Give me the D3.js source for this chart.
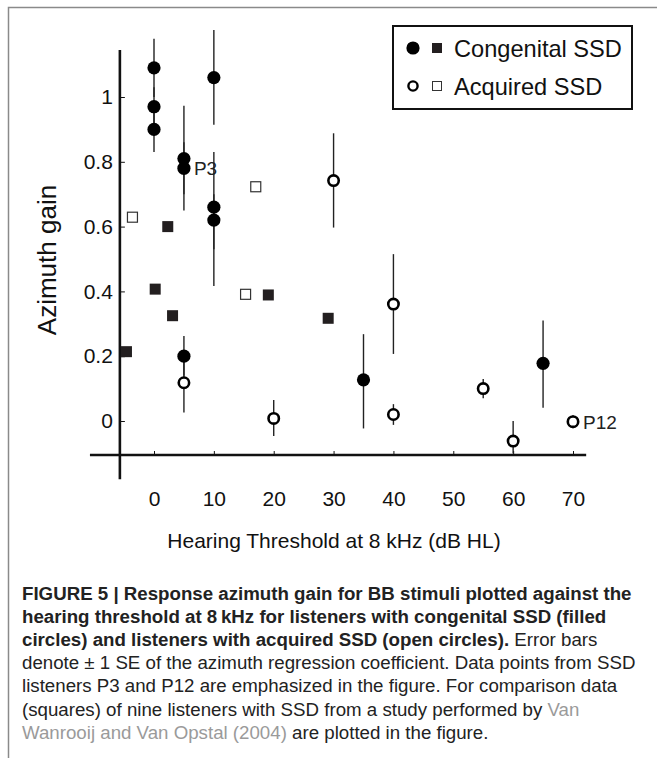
<!DOCTYPE html>
<html>
<head>
<meta charset="utf-8">
<script src="https://cdn.jsdelivr.net/npm/d3@7"></script>
<style>
  html, body { margin: 0; padding: 0; background: #fff; }
  svg { display: block; }
</style>
</head>
<body>
<svg id="chart" width="657" height="758"></svg>
<script>
// ---------- DATA ----------
// Congenital SSD (filled circles) with ±1 SE error bars
const congX  = [0, 0, 0, 5, 5, 10, 10, 10, 5, 35, 65];
const congY  = [1.09, 0.97, 0.90, 0.81, 0.78, 1.06, 0.66, 0.62, 0.20, 0.127, 0.178];
const congLo = [1.00, 0.91, 0.83, 0.70, 0.65, 0.914, 0.53, 0.417, 0.14, -0.023, 0.041];
const congHi = [1.18, 1.03, 0.97, 0.973, 0.86, 1.207, 0.83, 0.70, 0.262, 0.268, 0.31];

// Acquired SSD (open circles) with ±1 SE error bars
const acqX  = [5, 20, 30, 40, 40, 55, 60, 70];
const acqY  = [0.118, 0.008, 0.742, 0.361, 0.020, 0.100, -0.062, -0.002];
const acqLo = [0.026, -0.046, 0.597, 0.207, -0.012, 0.07, -0.10, -0.022];
const acqHi = [0.20, 0.065, 0.888, 0.515, 0.052, 0.13, 0.0, 0.018];

// Comparison data (Van Wanrooij & Van Opstal 2004)
const sqCongX = [-4.6, 0.2, 2.3, 3.1, 19.1, 29.1];
const sqCongY = [0.214, 0.407, 0.600, 0.325, 0.389, 0.317];
const sqAcqX  = [-3.6, 15.3, 17.0];
const sqAcqY  = [0.629, 0.391, 0.723];

// Ticks
const xTicks = [0, 10, 20, 30, 40, 50, 60, 70];
const yTicks = [0, 0.2, 0.4, 0.6, 0.8, 1];
const yTickLabels = ["0", "0.2", "0.4", "0.6", "0.8", "1"];

// Annotations
const annotations = [
  { label: "P3",  x: 5,  y: 0.78 },
  { label: "P12", x: 70, y: -0.002 }
];

const legendItems = ["Congenital SSD", "Acquired SSD"];

const captionLines = [
  [{t: "FIGURE 5 | Response azimuth gain for BB stimuli plotted against the", s: "b"}],
  [{t: "hearing threshold at 8\u2009kHz for listeners with congenital SSD (filled", s: "b"}],
  [{t: "circles) and listeners with acquired SSD (open circles).", s: "b"}, {t: " Error bars", s: "n"}],
  [{t: "denote \u00b1 1 SE of the azimuth regression coefficient. Data points from SSD", s: "n"}],
  [{t: "listeners P3 and P12 are emphasized in the figure. For comparison data", s: "n"}],
  [{t: "(squares) of nine listeners with SSD from a study performed by ", s: "n"}, {t: "Van", s: "g"}],
  [{t: "Wanrooij and Van Opstal (2004)", s: "g"}, {t: " are plotted in the figure.", s: "n"}]
];

// ---------- LAYOUT ----------
const svg = d3.select("#chart");
const FONT = "'Liberation Sans', Arial, Helvetica, sans-serif";

const x = d3.scaleLinear().domain([0, 70]).range([154, 573]);
const y = d3.scaleLinear().domain([0, 1]).range([421, 97]);

// Frame
svg.append("path")
  .attr("d", "M8.5,758 L8.5,7.5 L657,7.5")
  .attr("fill", "none").attr("stroke", "#8a8a8a").attr("stroke-width", 1.5);

const g = svg.append("g");

// Axes lines (custom extents)
const xAxisVal = -0.105, yAxisVal = -5.7;
g.append("line")
  .attr("x1", x(yAxisVal)).attr("x2", x(yAxisVal))
  .attr("y1", y(1.145)).attr("y2", y(-0.18))
  .attr("stroke", "#111").attr("stroke-width", 2.6);
g.append("line")
  .attr("x1", x(-10.7)).attr("x2", x(72.2))
  .attr("y1", y(xAxisVal)).attr("y2", y(xAxisVal))
  .attr("stroke", "#111").attr("stroke-width", 2.6);

// Y axis ticks & labels
const yAxis = d3.axisLeft(y).tickValues(yTicks)
  .tickFormat((d, i) => yTickLabels[i])
  .tickSizeInner(-5).tickSizeOuter(0).tickPadding(7);
const yg = g.append("g").attr("transform", `translate(${x(yAxisVal)},0)`).call(yAxis);
yg.select(".domain").remove();
yg.selectAll(".tick line").attr("stroke", "#111").attr("stroke-width", 1);
yg.selectAll(".tick text").attr("font-family", FONT).attr("font-size", 21).attr("fill", "#111");

// X axis ticks & labels
const xAxis = d3.axisBottom(x).tickValues(xTicks)
  .tickSizeInner(-4).tickSizeOuter(0).tickPadding(36);
const xg = g.append("g").attr("transform", `translate(0,${y(xAxisVal)})`).call(xAxis);
xg.select(".domain").remove();
xg.selectAll(".tick line").attr("stroke", "#111").attr("stroke-width", 1);
xg.selectAll(".tick text").attr("font-family", FONT).attr("font-size", 21).attr("fill", "#111");

// Axis titles
g.append("text")
  .attr("x", 334).attr("y", 548)
  .attr("text-anchor", "middle")
  .attr("font-family", FONT).attr("font-size", 21).attr("fill", "#111")
  .text("Hearing Threshold at 8 kHz (dB HL)");
g.append("text")
  .attr("transform", "translate(56,260) rotate(-90)")
  .attr("text-anchor", "middle")
  .attr("font-family", FONT).attr("font-size", 26).attr("fill", "#111")
  .text("Azimuth gain");

// Error bars
const errData = congX.map((d, i) => ({x: d, lo: congLo[i], hi: congHi[i]}))
  .concat(acqX.map((d, i) => ({x: d, lo: acqLo[i], hi: acqHi[i]})));
g.append("g").selectAll("line").data(errData).join("line")
  .attr("x1", d => x(d.x)).attr("x2", d => x(d.x))
  .attr("y1", d => y(d.lo)).attr("y2", d => y(d.hi))
  .attr("stroke", "#222").attr("stroke-width", 1.4);

// Squares
const SQ = 11;
g.append("g").selectAll("rect").data(sqCongX.map((d, i) => ({x: d, y: sqCongY[i]}))).join("rect")
  .attr("x", d => x(d.x) - SQ / 2).attr("y", d => y(d.y) - SQ / 2)
  .attr("width", SQ).attr("height", SQ)
  .attr("fill", "#231f20");
g.append("g").selectAll("rect").data(sqAcqX.map((d, i) => ({x: d, y: sqAcqY[i]}))).join("rect")
  .attr("x", d => x(d.x) - SQ / 2 + 0.5).attr("y", d => y(d.y) - SQ / 2 + 0.5)
  .attr("width", SQ - 1).attr("height", SQ - 1)
  .attr("fill", "#fff").attr("stroke", "#333").attr("stroke-width", 1.2);

// Circles
g.append("g").selectAll("circle").data(congX.map((d, i) => ({x: d, y: congY[i]}))).join("circle")
  .attr("cx", d => x(d.x)).attr("cy", d => y(d.y)).attr("r", 6.6)
  .attr("fill", "#000");
g.append("g").selectAll("circle").data(acqX.map((d, i) => ({x: d, y: acqY[i]}))).join("circle")
  .attr("cx", d => x(d.x)).attr("cy", d => y(d.y)).attr("r", 5.2)
  .attr("fill", "#fff").attr("stroke", "#000").attr("stroke-width", 2.6);

// Annotations
g.append("g").selectAll("text").data(annotations).join("text")
  .attr("x", d => x(d.x) + 10).attr("y", d => y(d.y) + 7)
  .attr("font-family", FONT).attr("font-size", 19).attr("fill", "#222")
  .text(d => d.label);

// Legend
const lg = svg.append("g");
lg.append("rect").attr("x", 393).attr("y", 26).attr("width", 239).attr("height", 83)
  .attr("fill", "#fff").attr("stroke", "#111").attr("stroke-width", 2);
lg.append("circle").attr("cx", 413).attr("cy", 48).attr("r", 6.6).attr("fill", "#000");
lg.append("rect").attr("x", 432).attr("y", 43).attr("width", 10).attr("height", 10).attr("fill", "#231f20");
lg.append("circle").attr("cx", 413).attr("cy", 86).attr("r", 4.6)
  .attr("fill", "#fff").attr("stroke", "#000").attr("stroke-width", 2.4);
lg.append("rect").attr("x", 432.5).attr("y", 81.5).attr("width", 9).attr("height", 9)
  .attr("fill", "#fff").attr("stroke", "#333").attr("stroke-width", 1);
lg.selectAll("text.leg").data(legendItems).join("text").attr("class", "leg")
  .attr("x", 454).attr("y", (d, i) => 56.5 + i * 38)
  .attr("font-family", FONT).attr("font-size", 23.6).attr("fill", "#111")
  .text(d => d);

// Caption
const cap = svg.append("g");
captionLines.forEach((line, i) => {
  const t = cap.append("text")
    .attr("x", 22).attr("y", 600 + i * 23.1)
    .attr("font-family", FONT).attr("font-size", 18.7);
  line.forEach(seg => {
    t.append("tspan").text(seg.t)
      .attr("font-weight", seg.s === "b" ? "bold" : "normal")
      .attr("fill", seg.s === "g" ? "#9a9a9a" : "#222")
      .attr("xml:space", "preserve");
  });
});
</script>
</body>
</html>
